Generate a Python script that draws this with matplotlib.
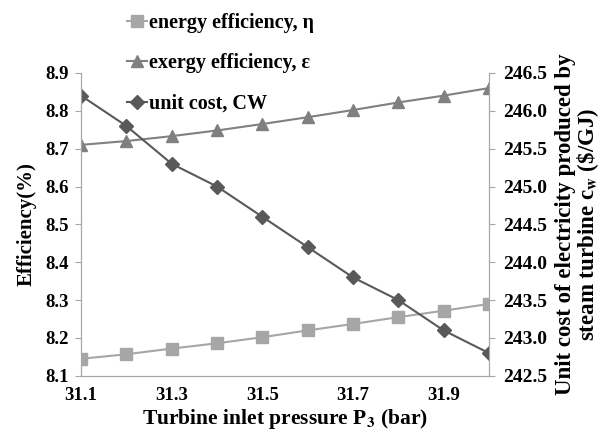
import matplotlib.pyplot as plt
import numpy as np

plt.rcParams['font.family'] = ['Liberation Serif', 'DejaVu Serif']
plt.rcParams['font.weight'] = 'bold'
plt.rcParams['mathtext.fontset'] = 'stix'

# turbine inlet pressure (bar)
pressure = [31.1, 31.2, 31.3, 31.4, 31.5, 31.6, 31.7, 31.8, 31.9, 32.0]
energy_eff = [8.145, 8.157, 8.172, 8.186, 8.202, 8.220, 8.237, 8.255, 8.272, 8.290]
exergy_eff = [8.710, 8.720, 8.733, 8.748, 8.765, 8.783, 8.802, 8.822, 8.840, 8.860]
unit_cost = [246.2, 245.8, 245.3, 245.0, 244.6, 244.2, 243.8, 243.5, 243.1, 242.8]

spine_col = '#A6A6A6'

fig = plt.figure(figsize=(6, 4.34), dpi=100)
ax = fig.add_axes([0.135, 0.134, 0.68, 0.698])
ax2 = ax.twinx()

x = np.arange(len(pressure))
l1, = ax.plot(x, energy_eff, color='#A6A6A6', marker='s', markersize=9, lw=1.5)
l2, = ax.plot(x, exergy_eff, color='#808080', marker='^', markersize=9, lw=1.5)
l3, = ax2.plot(x, unit_cost, color='#595959', marker='D', markersize=7, lw=1.5)

ax.set_xlim(0, 9)
ax.set_ylim(8.1, 8.9)
ax.set_yticks(np.arange(8.1, 8.91, 0.1))
ax.set_yticklabels([f'{v:.1f}' for v in np.arange(8.1, 8.91, 0.1)])
ax2.set_ylim(242.5, 246.5)
ax2.set_yticks(np.arange(242.5, 246.51, 0.5))
ax2.set_yticklabels([f'{v:.1f}' for v in np.arange(242.5, 246.51, 0.5)])
ax.set_xticks(x[::2])
ax.set_xticklabels([f'{p:.1f}' for p in pressure[::2]])

for a in (ax, ax2):
    a.spines['top'].set_visible(False)
    for s in ('left', 'right', 'bottom'):
        a.spines[s].set_color(spine_col)
    a.tick_params(colors=spine_col, labelcolor='black', labelsize=13.5, length=4, pad=5)
ax2.tick_params(labelsize=14, pad=6)
ax.tick_params(axis='x', length=0, pad=8)

ax.set_xlabel('Turbine inlet pressure P$_\\mathbf{3}$ (bar)', fontsize=15.5, fontweight='bold',
              labelpad=2)
ax.set_ylabel('Efficiency(%)', fontsize=15, fontweight='bold', labelpad=6)
ax2.set_ylabel('Unit cost of electricity produced by\nsteam turbine c$_\\mathbf{w}$ (\\$/GJ)',
               fontsize=16.5, fontweight='bold', linespacing=0.95, labelpad=6)

fig.legend([l1, l2, l3],
           ['energy efficiency, η', 'exergy efficiency, ε', 'unit cost, CW'],
           loc='upper left', bbox_to_anchor=(0.182, 1.012), frameon=False,
           labelspacing=1.02, handlelength=1.0, handletextpad=0.1,
           prop={'weight': 'bold', 'size': 14.5})

fig.savefig('out.png', dpi=100)
